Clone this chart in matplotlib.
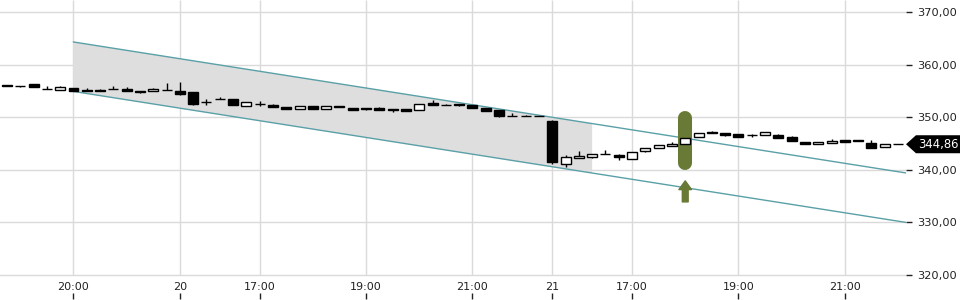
import numpy as np
import matplotlib
matplotlib.use('Agg')
import matplotlib.pyplot as plt
from matplotlib.patches import Polygon

# 15 minute candles, index = slot on the chart
opens = [356.1, 356.0, 356.25, 355.45, 355.1, 355.55, 355.2, 355.1, 355.4, 355.4,
         354.9, 354.95, 355.15, 355.0, 354.8, 352.9, 353.5, 353.5, 352.2, 352.6,
         352.4, 351.9, 351.6, 352.1, 351.6, 352.1, 351.7, 351.7, 351.7, 351.55,
         351.55, 351.3, 352.65, 352.3, 352.5, 352.3, 351.7, 351.4, 350.3, 350.3,
         350.2, 349.3, 341.1, 342.2, 342.5, 343.05, 342.75, 342.1, 343.5, 344.1,
         344.5, 345.0, 346.2, 347.25, 347.0, 346.8, 346.6, 346.55, 346.7, 346.2,
         345.3, 344.85, 345.05, 345.7, 345.7, 345.15, 344.3, 344.86]
highs = [356.1, 356.0, 356.3, 356.0, 355.9, 355.6, 355.5, 355.4, 356.0, 355.7,
         354.95, 355.6, 356.5, 356.7, 354.85, 353.5, 353.8, 353.55, 352.9, 353.0,
         352.45, 351.95, 352.15, 352.15, 352.15, 352.15, 351.75, 351.75, 352.0, 351.6,
         351.6, 352.5, 353.3, 352.6, 352.55, 352.35, 351.75, 351.45, 350.8, 350.35,
         350.25, 349.5, 342.8, 343.6, 343.0, 343.8, 343.0, 343.4, 344.15, 344.7,
         345.2, 346.05, 347.0, 347.3, 347.05, 346.85, 346.9, 347.2, 346.75, 346.5,
         345.35, 345.25, 345.8, 345.75, 345.75, 345.6, 344.9, 344.86]
lows = [355.85, 355.7, 355.7, 355.4, 355.1, 354.9, 354.9, 355.05, 355.35, 354.9,
        354.6, 354.9, 355.1, 354.2, 352.4, 352.3, 353.45, 352.3, 352.15, 352.2,
        351.9, 351.6, 351.55, 351.6, 351.55, 351.85, 351.4, 351.45, 351.3, 351.0,
        351.15, 351.3, 352.3, 352.25, 352.2, 351.7, 351.2, 350.1, 350.25, 350.25,
        350.15, 341.1, 340.6, 342.2, 342.3, 343.05, 341.8, 342.1, 343.4, 344.1,
        344.5, 345.0, 346.2, 346.95, 346.4, 346.2, 346.3, 346.55, 346.05, 345.4,
        344.85, 344.85, 345.05, 345.2, 345.4, 344.15, 344.3, 344.86]
closes = [355.9, 355.85, 355.75, 355.4, 355.8, 354.95, 354.95, 355.05, 355.35, 354.95,
          354.85, 355.4, 355.1, 354.5, 352.45, 352.85, 353.45, 352.35, 352.8, 352.55,
          351.95, 351.65, 352.1, 351.65, 352.1, 351.9, 351.45, 351.5, 351.35, 351.3,
          351.2, 352.5, 352.35, 352.3, 352.25, 351.75, 351.25, 350.15, 350.3, 350.25,
          350.15, 341.4, 342.5, 342.6, 343.0, 343.05, 342.4, 343.4, 344.15, 344.7,
          344.9, 346.05, 347.0, 346.95, 346.7, 346.25, 346.55, 347.2, 346.1, 345.45,
          344.9, 345.25, 345.5, 345.35, 345.45, 344.2, 344.9, 344.86]

tick_slots = [5, 13, 19, 27, 35, 41, 47, 55, 63]
tick_labels = ['20:00', '20', '17:00', '19:00', '21:00', '21', '17:00', '19:00', '21:00']
price_ticks = [320, 330, 340, 350, 360, 370]

# trend channel: anchor of upper line, end of upper line, channel width
channel_start = (5, 364.3)
channel_end = (67.6, 339.4)
channel_width = 9.4
shade_end_slot = 44

signal_slot = 51
signal_range = (340.0, 351.1)
arrow_range = (333.9, 337.9)
last_price = 344.86

grid_color = '#dadada'
text_color = '#222222'
green = '#687a35'

fig = plt.figure(figsize=(9.6, 3.0), dpi=100)
ax = fig.add_axes([0, 1 / 300, 906 / 960, 299 / 300])

xmin, xmax = -0.526, 67.6
ymin, ymax = 315.44, 372.28
ax.set_xlim(xmin, xmax)
ax.set_ylim(ymin, ymax)

for s in ax.spines.values():
    s.set_visible(False)

# grid
ax.set_yticks(price_ticks)
ax.yaxis.grid(True, color=grid_color, lw=1)
ax.vlines(tick_slots, 320, ymax, color=grid_color, lw=1, zorder=0)
ax.set_axisbelow(True)

# channel
slope = (channel_end[1] - channel_start[1]) / (channel_end[0] - channel_start[0])
upper = lambda x: channel_start[1] + slope * (x - channel_start[0])
xs_shade = np.array([channel_start[0], shade_end_slot])
shade = Polygon([(xs_shade[0], upper(xs_shade[0])), (xs_shade[1], upper(xs_shade[1])),
                 (xs_shade[1], upper(xs_shade[1]) - channel_width),
                 (xs_shade[0], upper(xs_shade[0]) - channel_width)],
                closed=True, facecolor='#dedede', edgecolor='none', zorder=1)
ax.add_patch(shade)
xs_line = np.array([channel_start[0], channel_end[0]])
ax.plot(xs_line, upper(xs_line), color='#5aa0a7', lw=1, zorder=2)
ax.plot(xs_line, upper(xs_line) - channel_width, color='#5aa0a7', lw=1, zorder=2)

# signal marker
cap = 7 / 5.26
ax.plot([signal_slot, signal_slot], [signal_range[0] + cap, signal_range[1] - cap],
        color=green, lw=10.1, solid_capstyle='round', zorder=3)
ax.annotate('', xy=(signal_slot, arrow_range[1]), xytext=(signal_slot, arrow_range[0]),
            arrowprops=dict(arrowstyle='simple,head_length=0.45,head_width=0.65,tail_width=0.3',
                            color=green, shrinkA=0, shrinkB=0, mutation_scale=14),
            zorder=3)

# candles
x = np.arange(len(opens))
o = np.array(opens); c = np.array(closes)
ax.vlines(x, lows, highs, color='black', lw=1, zorder=4)
bottoms = np.minimum(o, c)
heights = np.maximum(np.abs(c - o), 0.02)
colors = ['white' if cc > oo else 'black' for oo, cc in zip(o, c)]
ax.bar(x, heights, bottom=bottoms, width=0.75, color=colors, edgecolor='black',
       linewidth=1, zorder=5)

# axes ticks
ax.set_xticks(tick_slots)
ax.set_xticklabels(tick_labels)
ax.tick_params(axis='x', direction='in', length=4, width=1, color=text_color,
               pad=-12.5, labelsize=8, labelcolor=text_color)
ax.yaxis.tick_right()
ax.set_yticklabels([('%.2f' % v).replace('.', ',') for v in price_ticks])
ax.tick_params(axis='y', direction='out', length=4, width=1, color=text_color,
               pad=4, labelsize=8.2, labelcolor=text_color)

# last price tag
tag_tf = ax.get_yaxis_transform()
half = 9 / 5.26
tag = Polygon([(1.0, last_price), (1.011, last_price + half), (1.06, last_price + half),
               (1.06, last_price - half), (1.011, last_price - half)],
              closed=True, transform=tag_tf, facecolor='black', edgecolor='none',
              clip_on=False, zorder=6)
ax.add_patch(tag)
ax.text(1.0135, last_price, ('%.2f' % last_price).replace('.', ','), transform=tag_tf,
        color='white', fontsize=8.4, va='center', ha='left', zorder=7, clip_on=False)

fig.savefig('out.png', dpi=100)
